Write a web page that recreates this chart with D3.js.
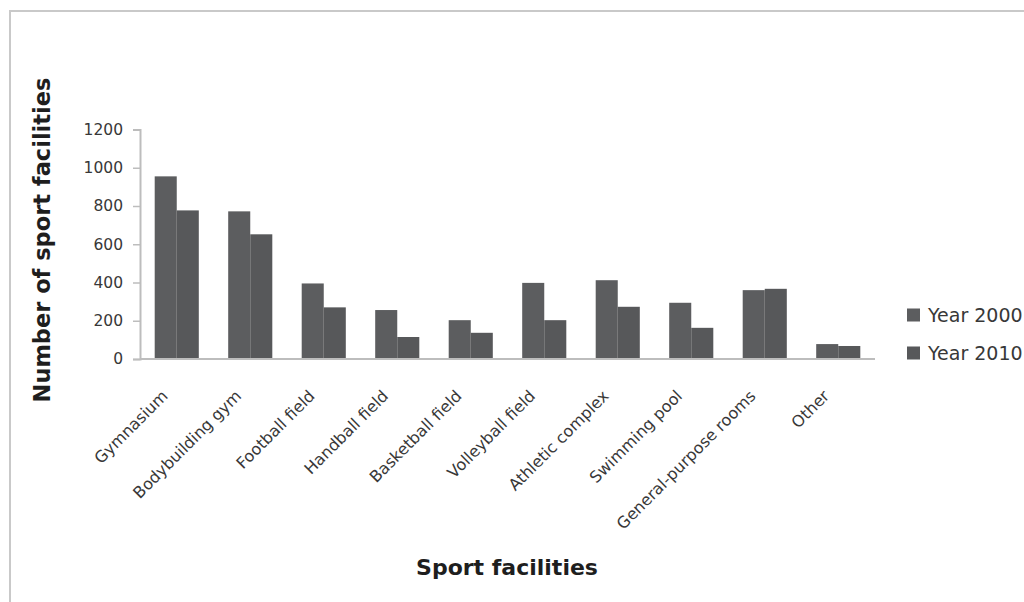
<!DOCTYPE html>
<html>
<head>
<meta charset="utf-8">
<script src="https://cdn.jsdelivr.net/npm/d3@7"></script>
<style>
  html, body { margin: 0; padding: 0; background: #fff; }
  svg { display: block; }
</style>
</head>
<body>
<svg id="chart" width="1024" height="602"></svg>
<script>
// Sport facilities counted in 2000 and 2010
const categories = [
  "Gymnasium", "Bodybuilding gym", "Football field", "Handball field",
  "Basketball field", "Volleyball field", "Athletic complex",
  "Swimming pool", "General-purpose rooms", "Other"
];
const seriesNames = ["Year 2000", "Year 2010"];
const year2000 = [955, 772, 395, 256, 203, 398, 412, 294, 360, 78];
const year2010 = [777, 652, 270, 115, 137, 203, 273, 163, 367, 68];
const yTicks = [0, 200, 400, 600, 800, 1000, 1200];

const seriesValues = [year2000, year2010];
const seriesColors = ["#5c5d5f", "#57585a"];

const svg = d3.select("#chart");
const font = "'DejaVu Sans', sans-serif";

// outer frame
svg.append("rect")
  .attr("x", 10).attr("y", 11)
  .attr("width", 1040).attr("height", 620)
  .attr("fill", "none")
  .attr("stroke", "#c9c9c9")
  .attr("stroke-width", 2);

const plot = { left: 140, right: 875, top: 129.5, bottom: 359 };

const x = d3.scaleBand()
  .domain(categories)
  .range([plot.left, plot.right])
  .paddingInner(0.4)
  .paddingOuter(0.2);

const xInner = d3.scaleBand()
  .domain(seriesNames)
  .range([0, x.bandwidth()]);

const y = d3.scaleLinear()
  .domain([0, 1200])
  .range([plot.bottom, plot.top]);

// bars
const rows = categories.map((c, i) => ({
  category: c,
  values: seriesNames.map((s, j) => ({ series: s, value: seriesValues[j][i], color: seriesColors[j] }))
}));

const groups = svg.append("g").selectAll("g")
  .data(rows)
  .join("g")
  .attr("transform", d => `translate(${x(d.category)},0)`);

groups.selectAll("rect")
  .data(d => d.values)
  .join("rect")
  .attr("x", d => xInner(d.series))
  .attr("y", d => y(d.value))
  .attr("width", xInner.bandwidth())
  .attr("height", d => y(0) - y(d.value))
  .attr("fill", d => d.color);

// y axis
const yAxis = svg.append("g")
  .attr("transform", `translate(${plot.left},0)`)
  .call(d3.axisLeft(y).tickValues(yTicks).tickSize(7).tickPadding(10).tickFormat(d3.format("d")));
yAxis.select(".domain").attr("stroke", "#bdbdbd").attr("stroke-width", 2);
yAxis.selectAll(".tick line").attr("stroke", "#bdbdbd").attr("stroke-width", 1.5);
yAxis.selectAll(".tick text")
  .attr("font-family", font)
  .attr("font-size", 15.5)
  .attr("fill", "#383838");

// x axis
const xAxis = svg.append("g")
  .attr("transform", `translate(0,${plot.bottom})`)
  .call(d3.axisBottom(x).tickSize(0).tickPadding(0));
xAxis.select(".domain").attr("stroke", "#bdbdbd").attr("stroke-width", 2)
  .attr("d", `M${plot.left},0H${plot.right}`);
xAxis.selectAll(".tick text")
  .attr("font-family", font)
  .attr("font-size", 16)
  .attr("fill", "#383838")
  .attr("text-anchor", "end")
  .attr("dy", null)
  .attr("y", null)
  .attr("transform", "translate(-8,38) rotate(-45)");

// axis titles
svg.append("text")
  .attr("transform", "translate(50,240) rotate(-90)")
  .attr("text-anchor", "middle")
  .attr("font-family", font)
  .attr("font-weight", "bold")
  .attr("font-size", 22.5)
  .attr("fill", "#1e1e1e")
  .text("Number of sport facilities");

svg.append("text")
  .attr("x", 507).attr("y", 575)
  .attr("text-anchor", "middle")
  .attr("font-family", font)
  .attr("font-weight", "bold")
  .attr("font-size", 22)
  .attr("fill", "#1e1e1e")
  .text("Sport facilities");

// legend
const legend = svg.append("g").selectAll("g")
  .data(seriesNames)
  .join("g")
  .attr("transform", (d, i) => `translate(907,${315 + i * 38})`);
legend.append("rect")
  .attr("x", 0).attr("y", -6.5)
  .attr("width", 13).attr("height", 13)
  .attr("fill", (d, i) => seriesColors[i]);
legend.append("text")
  .attr("x", 21).attr("y", 0)
  .attr("dy", "0.36em")
  .attr("font-family", font)
  .attr("font-size", 19)
  .attr("fill", "#383838")
  .text(d => d);
</script>
</body>
</html>
